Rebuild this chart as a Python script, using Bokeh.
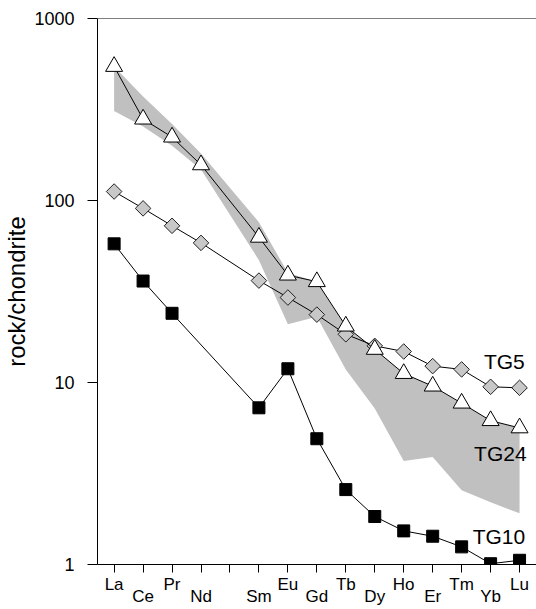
from bokeh.plotting import figure
from bokeh.models import (Range1d, FixedTicker, NumeralTickFormatter, Span,
                          Label)
from bokeh.embed import file_html
from bokeh.resources import INLINE
import numpy as np

# ---------------- data ----------------
elements = ["La", "Ce", "Pr", "Nd", "Pm", "Sm", "Eu", "Gd", "Tb", "Dy",
            "Ho", "Er", "Tm", "Yb", "Lu"]

# elements with analyses (Pm never analysed)
ree = ["La", "Ce", "Pr", "Nd", "Sm", "Eu", "Gd", "Tb", "Dy", "Ho", "Er",
       "Tm", "Yb", "Lu"]
tg24 = [545, 280, 223, 157, 62.8, 38.9, 35.8, 20.4, 15.2, 11.2, 9.55, 7.7,
        6.17, 5.63]
tg5 = [112, 90.5, 72.6, 58.5, 36.3, 29.3, 23.6, 18.4, 15.9, 14.8, 12.3, 11.8,
       9.47, 9.35]

ree_tg10 = ["La", "Ce", "Pr", "Sm", "Eu", "Gd", "Tb", "Dy", "Ho", "Er", "Tm",
            "Yb", "Lu"]
tg10 = [57.8, 36.1, 24.0, 7.26, 11.9, 4.91, 2.58, 1.835, 1.53, 1.43, 1.25,
        1.01, 1.055]

# grey field (range of comparison samples)
field_upper = [545, 373, 263, 181, 76, 40, 35.8, 20.4, 15.2, 11.2, 9.55, 7.7,
               6.17, 5.63]
field_lower = [310, 255, 200, 148, 47, 20.9, 23.0, 11.8, 7.2, 3.7, 3.9, 2.56,
               2.2, 1.91]

y_ticks = [1, 10, 100, 1000]
series_names = ["TG5", "TG24", "TG10"]

# ---------------- helpers ----------------
pos = {e: i for i, e in enumerate(elements)}
x_ree = [pos[e] for e in ree]
x_tg10 = [pos[e] for e in ree_tg10]

FONT = "Liberation Sans"

p = figure(width=536, height=609,
           x_range=Range1d(-0.574, 14.585), y_range=Range1d(1, 1000),
           y_axis_type="log", output_backend="svg", toolbar_location=None,
           min_border_left=95, min_border_right=0, min_border_top=18,
           min_border_bottom=10)
p.outline_line_color = None
p.xgrid.visible = False
p.ygrid.visible = False
p.background_fill_color = "white"
p.border_fill_color = "white"

# field
px = x_ree + x_ree[::-1]
py = field_upper + field_lower[::-1]
p.patch(px, py, fill_color="#c0c0c0", line_color=None)

# TG10
p.line(x_tg10, tg10, line_color="black", line_width=1)
p.scatter(x_tg10, tg10, marker="square", size=12, fill_color="black",
          line_color="black", line_width=1)
# TG5
p.line(x_ree, tg5, line_color="black", line_width=1)
p.scatter(x_ree, tg5, marker="square", angle=np.pi / 4, size=11,
          fill_color="#c8c8c8", line_color="#222222", line_width=1)
# TG24
p.line(x_ree, tg24, line_color="black", line_width=1)
p.scatter(x_ree, tg24, marker="triangle", size=17, fill_color="white",
          line_color="black", line_width=1)

# top border line
p.add_layout(Span(location=1000, dimension="width", line_color="black",
                  line_width=1))

# axes: staggered element labels (odd ones on a second line)
xa = p.xaxis[0]
xa.ticker = FixedTicker(ticks=list(range(len(elements))))
xa.major_label_overrides = {
    i: ("" if e == "Pm" else (e if i % 2 == 0 else "\n" + e))
    for i, e in enumerate(elements)}
xa.major_tick_out = 8
xa.major_tick_in = 0
xa.minor_tick_line_color = None
xa.major_label_standoff = 2
xa.major_label_text_font = FONT
xa.major_label_text_font_size = "17px"
xa.major_label_text_line_height = 0.66
xa.major_label_text_color = "black"
xa.axis_line_color = "black"
xa.major_tick_line_color = "black"

ya = p.yaxis[0]
ya.ticker = FixedTicker(ticks=y_ticks)
ya.formatter = NumeralTickFormatter(format="0")
ya.major_tick_out = 10
ya.major_tick_in = 0
ya.minor_tick_line_color = None
ya.major_label_standoff = 13
ya.major_label_text_font = FONT
ya.major_label_text_font_size = "18px"
ya.major_label_text_color = "black"
ya.axis_line_color = "black"
ya.major_tick_line_color = "black"
ya.axis_label = "rock/chondrite"
ya.axis_label_text_font = FONT
ya.axis_label_text_font_size = "24px"
ya.axis_label_text_font_style = "normal"
ya.axis_label_text_color = "black"
ya.axis_label_standoff = 1

# series labels
label_pos = {"TG5": (12.77, 13.1), "TG24": (12.43, 4.07), "TG10": (12.38, 1.418)}
for name in series_names:
    lx, ly = label_pos[name]
    p.add_layout(Label(x=lx, y=ly, text=name, text_align="left",
                       text_baseline="middle", text_font=FONT,
                       text_font_size="21px", text_color="black"))

open("out.html", "w").write(file_html(p, INLINE))
